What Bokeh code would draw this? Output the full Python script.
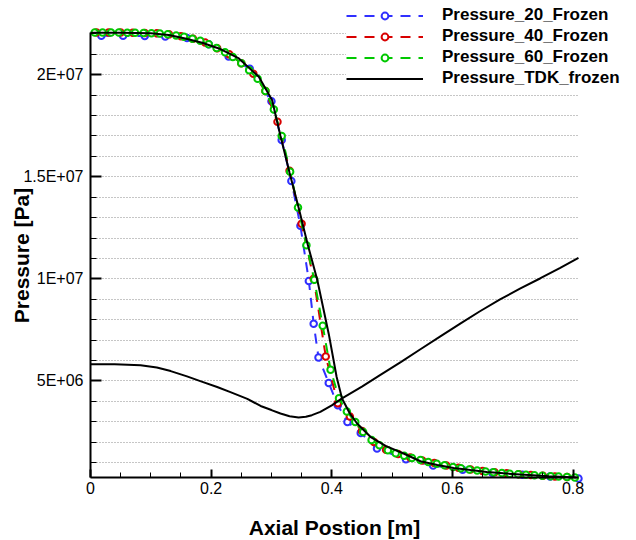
import math
from bokeh.plotting import figure
from bokeh.models import (Range1d, FixedTicker, Legend, LegendItem, Grid, BoxAnnotation, Label)
from bokeh.embed import file_html
from bokeh.resources import INLINE

# ---------------- data ----------------
series_names = ["Pressure_20_Frozen", "Pressure_40_Frozen", "Pressure_60_Frozen", "Pressure_TDK_frozen"]

x_20 = [0.018, 0.054, 0.090, 0.124, 0.160, 0.196, 0.229, 0.264, 0.300, 0.317, 0.333, 0.348,
        0.362, 0.370, 0.378, 0.395, 0.410, 0.426, 0.448, 0.475, 0.523, 0.568, 0.617, 0.666,
        0.716, 0.762, 0.809]
p_20 = [2.191e7, 2.191e7, 2.190e7, 2.187e7, 2.180e7, 2.150e7, 2.090e7, 2.030e7, 1.870e7, 1.680e7,
        1.480e7, 1.260e7, 0.990e7, 0.780e7, 0.615e7, 0.490e7, 0.380e7, 0.299e7, 0.245e7, 0.169e7,
        0.116e7, 0.085e7, 0.064e7, 0.050e7, 0.040e7, 0.032e7, 0.022e7]

x_40 = [0.010, 0.030, 0.050, 0.070, 0.090, 0.110, 0.130, 0.150, 0.170, 0.190, 0.210, 0.230,
        0.250, 0.270, 0.290, 0.310, 0.330, 0.350, 0.370, 0.390, 0.410, 0.430, 0.450, 0.470,
        0.490, 0.510, 0.530, 0.550, 0.570, 0.590, 0.610, 0.630, 0.650, 0.670, 0.690, 0.710,
        0.730, 0.750, 0.770, 0.790]
p_40 = [2.207e7, 2.207e7, 2.207e7, 2.206e7, 2.205e7, 2.203e7, 2.198e7, 2.189e7, 2.177e7, 2.158e7,
        2.130e7, 2.100e7, 2.057e7, 2.005e7, 1.920e7, 1.770e7, 1.530e7, 1.270e7, 1.000e7, 0.620e7,
        0.390e7, 0.325e7, 0.255e7, 0.200e7, 0.162e7, 0.142e7, 0.125e7, 0.110e7, 0.097e7, 0.085e7,
        0.074e7, 0.066e7, 0.058e7, 0.052e7, 0.047e7, 0.043e7, 0.039e7, 0.035e7, 0.032e7, 0.029e7]

x_60 = [0.007, 0.020, 0.034, 0.047, 0.061, 0.074, 0.088, 0.101, 0.115, 0.128, 0.142, 0.155,
        0.169, 0.182, 0.196, 0.209, 0.223, 0.236, 0.250, 0.263, 0.277, 0.290, 0.304, 0.317,
        0.331, 0.344, 0.358, 0.371, 0.385, 0.398, 0.412, 0.425, 0.439, 0.452, 0.466, 0.479,
        0.493, 0.506, 0.520, 0.533, 0.547, 0.560, 0.574, 0.587, 0.601, 0.614, 0.628, 0.641,
        0.655, 0.668, 0.682, 0.695, 0.709, 0.722, 0.736, 0.749, 0.763, 0.776, 0.790, 0.803]
p_60 = [2.207e7, 2.207e7, 2.207e7, 2.207e7, 2.206e7, 2.206e7, 2.205e7, 2.204e7, 2.202e7, 2.199e7,
        2.193e7, 2.186e7, 2.177e7, 2.167e7, 2.150e7, 2.131e7, 2.110e7, 2.087e7, 2.057e7, 2.022e7,
        1.980e7, 1.920e7, 1.830e7, 1.700e7, 1.525e7, 1.350e7, 1.165e7, 0.995e7, 0.770e7, 0.555e7,
        0.415e7, 0.350e7, 0.298e7, 0.250e7, 0.210e7, 0.185e7, 0.160e7, 0.145e7, 0.133e7, 0.122e7,
        0.112e7, 0.103e7, 0.094e7, 0.086e7, 0.078e7, 0.072e7, 0.066e7, 0.061e7, 0.056e7, 0.052e7,
        0.048e7, 0.045e7, 0.042e7, 0.040e7, 0.037e7, 0.035e7, 0.033e7, 0.031e7, 0.029e7, 0.027e7]

x_tdk = [0.000, 0.050, 0.100, 0.130, 0.157, 0.185, 0.213, 0.246, 0.279, 0.301, 0.315, 0.330,
         0.345, 0.360, 0.376, 0.395, 0.408, 0.417, 0.430, 0.442, 0.464, 0.490, 0.519, 0.547,
         0.575, 0.602, 0.630, 0.657, 0.685, 0.713, 0.760, 0.806]
p_tdk = [2.206e7, 2.206e7, 2.203e7, 2.195e7, 2.178e7, 2.157e7, 2.129e7, 2.080e7, 1.990e7, 1.876e7,
         1.700e7, 1.520e7, 1.350e7, 1.170e7, 0.994e7, 0.730e7, 0.520e7, 0.414e7, 0.340e7, 0.291e7,
         0.226e7, 0.180e7, 0.144e7, 0.106e7, 0.088e7, 0.073e7, 0.063e7, 0.054e7, 0.047e7, 0.041e7,
         0.033e7, 0.026e7]

# second black curve (no legend entry)
x_tdk_b = [0.000, 0.040, 0.083, 0.110, 0.133, 0.160, 0.182, 0.210, 0.232, 0.260, 0.282, 0.300,
           0.315, 0.330, 0.345, 0.357, 0.367, 0.381, 0.400, 0.417, 0.450, 0.480, 0.515, 0.547,
           0.580, 0.613, 0.645, 0.679, 0.712, 0.746, 0.778, 0.809]
p_tdk_b = [5.82e6, 5.82e6, 5.77e6, 5.66e6, 5.48e6, 5.22e6, 4.99e6, 4.70e6, 4.45e6, 4.12e6, 3.77e6,
           3.57e6, 3.40e6, 3.27e6, 3.21e6, 3.24e6, 3.32e6, 3.48e6, 3.80e6, 4.14e6, 4.72e6, 5.28e6,
           5.93e6, 6.55e6, 7.18e6, 7.81e6, 8.40e6, 8.99e6, 9.52e6, 10.03e6, 10.53e6, 11.03e6]

x_major = [0, 0.2, 0.4, 0.6, 0.8]
x_labels = ["0", "0.2", "0.4", "0.6", "0.8"]
x_minor = [0.05, 0.1, 0.15, 0.25, 0.3, 0.35, 0.45, 0.5, 0.55, 0.65, 0.7, 0.75]
y_major = [5000000, 10000000, 15000000, 20000000]
y_labels = ["5E+06", "1E+07", "1.5E+07", "2E+07"]
y_minor = [1000000 * k for k in [1, 2, 3, 4, 6, 7, 8, 9, 11, 12, 13, 14, 16, 17, 18, 19, 21, 22]]

x_axis_extent = (0, 0.809)
y_axis_extent = (0.265e6, 2.207e7)
x_title = "Axial Postion [m]"
y_title = "Pressure [Pa]"

colors = ["#3030ff", "#d80000", "#00c800", "#000000"]

FONT = "Liberation Sans"

# ---------------- figure ----------------
# The frame fills the whole canvas; the axes are pinned at fixed data locations so that
# the legend and the axis titles can be placed freely without being clipped.
p = figure(width=636, height=540, output_backend="svg", toolbar_location=None, title=None,
           x_range=Range1d(-0.1492, 0.9052), y_range=Range1d(-2.822e6, 2.364e7),
           min_border=0, min_border_left=0, min_border_right=0, min_border_top=0,
           min_border_bottom=0)
p.outline_line_color = None
p.background_fill_color = "white"
p.border_fill_color = "white"

xt = FixedTicker(ticks=x_major, minor_ticks=x_minor)
yt = FixedTicker(ticks=y_major, minor_ticks=y_minor)

xa = p.xaxis[0]
xa.ticker = xt
xa.major_label_overrides = dict(zip(x_major, x_labels))
xa.bounds = x_axis_extent
xa.fixed_location = y_axis_extent[0]
ya = p.yaxis[0]
ya.ticker = yt
ya.major_label_overrides = dict(zip(y_major, y_labels))
ya.bounds = y_axis_extent
ya.fixed_location = x_axis_extent[0]
for ax in (xa, ya):
    ax.axis_line_width = 2
    ax.axis_line_color = "black"
    ax.major_tick_out = 0
    ax.minor_tick_out = 0
    ax.major_tick_line_width = 2
    ax.minor_tick_line_width = 1
    ax.major_tick_line_color = "black"
    ax.minor_tick_line_color = "black"
    ax.major_label_text_font = FONT
    ax.major_label_text_font_size = "16px"
    ax.major_label_text_color = "black"
xa.major_tick_in = 8
xa.minor_tick_in = 5
xa.major_label_standoff = 4
ya.major_tick_in = 11
ya.minor_tick_in = 6
ya.major_label_standoff = 7

p.xgrid.visible = False
yg = p.ygrid[0]
yg.ticker = yt
yg.bounds = y_axis_extent
yg.grid_line_color = "#8c8c8c"
yg.grid_line_dash = "1 2"
yg.grid_line_width = 1
yg.minor_grid_line_color = "#8c8c8c"
yg.minor_grid_line_dash = "1 2"
yg.minor_grid_line_width = 1
if "cross_bounds" in Grid.properties():
    yg.cross_bounds = x_axis_extent
else:
    p.add_layout(BoxAnnotation(left=x_axis_extent[1], fill_color="white", fill_alpha=1,
                               line_color=None, level="underlay"))
    p.add_layout(BoxAnnotation(right=x_axis_extent[0], fill_color="white", fill_alpha=1,
                               line_color=None, level="underlay"))

items = []
for xs, ps, c, name in [(x_20, p_20, colors[0], series_names[0]),
                        (x_40, p_40, colors[1], series_names[1]),
                        (x_60, p_60, colors[2], series_names[2])]:
    rl = p.line(xs, ps, line_color=c, line_width=2, line_dash="10 8")
    rm = p.scatter(xs, ps, marker="circle", size=6.5, line_color=c, line_width=2,
                   fill_color="white")
    items.append(LegendItem(label=name, renderers=[rl, rm]))

rt = p.line(x_tdk, p_tdk, line_color=colors[3], line_width=2)
p.line(x_tdk_b, p_tdk_b, line_color=colors[3], line_width=2)
items.append(LegendItem(label=series_names[3], renderers=[rt]))

legend = Legend(items=items, location=(346, 452), orientation="vertical",
                glyph_width=77, glyph_height=17, label_standoff=19, spacing=1,
                padding=4, margin=0, background_fill_color="white", background_fill_alpha=1,
                border_line_color=None, label_text_font=FONT, label_text_font_style="bold",
                label_text_font_size="17px", label_text_color="black")
p.add_layout(legend)

p.add_layout(Label(x=334, y=13, x_units="screen", y_units="screen", text=x_title,
                   text_align="center", text_baseline="middle", text_font=FONT,
                   text_font_style="bold", text_font_size="21px", text_color="black"))
p.add_layout(Label(x=21, y=285, x_units="screen", y_units="screen", text=y_title,
                   angle=math.pi / 2, text_align="center", text_baseline="middle", text_font=FONT,
                   text_font_style="bold", text_font_size="21px", text_color="black"))

open("out.html", "w").write(file_html(p, INLINE))
